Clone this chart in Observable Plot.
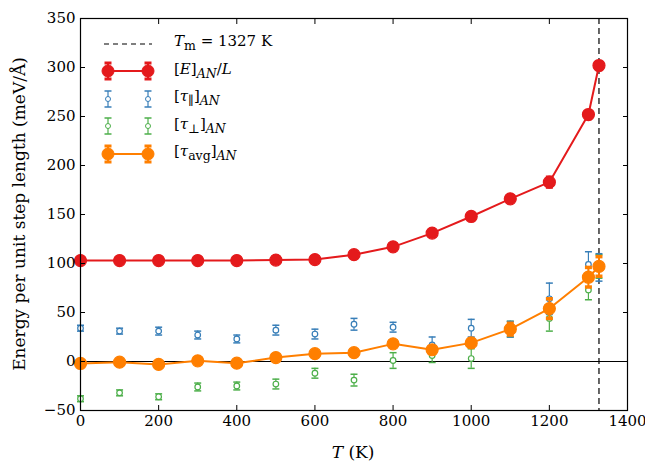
<!DOCTYPE html>
<html><head><meta charset="utf-8">
<script src="https://cdn.jsdelivr.net/npm/d3@7"></script>
<script src="https://cdn.jsdelivr.net/npm/@observablehq/plot@0.6"></script>
<style>
body{margin:0;background:#fff;font-family:"DejaVu Serif",serif}
#wrap{position:relative;width:645px;height:466px}
#legend{position:absolute;left:100px;top:30px;font:15px "DejaVu Serif",serif;line-height:23.5px}
#legend div{display:flex;align-items:center}
#legend svg{margin-right:18px}
i{font-style:italic}
</style></head><body>
<div id="wrap"><div id="chart"></div>
<div id="legend"></div></div>
<script>
const T = [0,100,200,300,400,500,600,700,800,900,1000,1100,1200,1300,1327]
const E = [103,103,103,103,103,103.5,104,109,117,131,148,166,183,252,302]
const Eerr = [2,2,2,2,2,2,2,3,3,3,3,3,5,4,4]
const tauPar = [34,31,31,27,23,32,28,38,35,17,34,33,64,99,96]
const tauParErr = [3,3,4,4,4,5,5,6,5,8,9,8,16,13,14]
const tauPerp = [-38,-32,-36,-26,-25,-23,-12,-19,1,6,3,33,44,73,97]
const tauPerpErr = [3,3,3,4,4,5,5,6,8,7,10,8,13,10,12]
const tauAvg = [-2,-0.7,-3,0.7,-1.7,4,8,9,18,12,19,33,54,86,97]
const tauAvgErr = [2,2,2,2,2,2,2,2,3,3,4,6,10,10,10]
const Tm = 1327
const xTicks = [0,200,400,600,800,1000,1200,1400]
const yTicks = [-50,0,50,100,150,200,250,300,350]

const rows = (ys, es) => T.map((t, i) => ({t, y: ys[i], lo: ys[i] - es[i], hi: ys[i] + es[i]}))
const red = "#e41a1c", blue = "#377eb8", green = "#4daf4a", orange = "#ff7f00"

const capSymbol = {draw(ctx, size) { const w = 3.5; ctx.moveTo(-w, 0); ctx.lineTo(w, 0) }}

function series(ys, es, color, filled, line) {
  const d = rows(ys, es)
  const m = [Plot.ruleX(d, {x: "t", y1: "lo", y2: "hi", stroke: color, strokeWidth: filled ? 2 : 1.2})]
  for (const k of ["lo", "hi"])
    m.push(Plot.dot(d, {x: "t", y: k, symbol: capSymbol, r: 3, stroke: color, strokeWidth: filled ? 3.5 : 1.5}))
  if (line) m.push(Plot.line(d, {x: "t", y: "y", stroke: color, strokeWidth: 2}))
  m.push(Plot.dot(d, {x: "t", y: "y", r: filled ? 6 : 2.8, fill: filled ? color : "white", stroke: color, strokeWidth: 1.2}))
  return m
}

const fmt = d3.format("d")
const chart = Plot.plot({
  width: 645, height: 466,
  marginLeft: 80, marginRight: 18, marginTop: 18, marginBottom: 56,
  style: {fontFamily: "DejaVu Serif, serif", fontSize: "15px", color: "#000"},
  x: {domain: [0, 1400]},
  y: {domain: [-50, 350]},
  marks: [
    Plot.ruleY([0], {stroke: "#000", strokeWidth: 1}),
    Plot.ruleX([Tm], {stroke: "#000", strokeDasharray: "6,4", strokeWidth: 1.2}),
    ...series(tauPerp, tauPerpErr, green, false, false),
    ...series(tauPar, tauParErr, blue, false, false),
    ...series(E, Eerr, red, true, true),
    ...series(tauAvg, tauAvgErr, orange, true, true),
    Plot.frame({stroke: "#000", strokeWidth: 1.2}),
    Plot.axisX(xTicks, {tickSize: -5, tickPadding: 10, tickFormat: fmt, label: null}),
    Plot.axisX(xTicks, {anchor: "top", tickSize: -5, tickFormat: () => "", label: null}),
    Plot.axisY(yTicks, {tickSize: -5, tickPadding: 10, tickFormat: fmt, label: null}),
    Plot.axisY(yTicks, {anchor: "right", tickSize: -5, tickFormat: () => "", label: null}),
  ]
})
d3.select("#chart").append(() => chart)
const svg = d3.select(chart)
svg.append("text").attr("x", 353).attr("y", 458).attr("text-anchor", "middle").attr("font-size", 17)
  .html('<tspan font-style="italic">T</tspan> (K)')
svg.append("text").attr("transform", "translate(25,214) rotate(-90)").attr("text-anchor", "middle").attr("font-size", 17)
  .text("Energy per unit step length (meV/Å)")

const legendItems = [
  {kind: "dash", label: '<i>T</i><sub>m</sub> = 1327 K'},
  {kind: "big", color: red, label: '[<i>E</i>]<sub><i>AN</i></sub>/<i>L</i>'},
  {kind: "small", color: blue, label: '[<i>τ</i><sub>∥</sub>]<sub><i>AN</i></sub>'},
  {kind: "small", color: green, label: '[<i>τ</i><sub>⊥</sub>]<sub><i>AN</i></sub>'},
  {kind: "big", color: orange, label: '[<i>τ</i><sub>avg</sub>]<sub><i>AN</i></sub>'},
]
const sym = (it) => {
  if (it.kind === "dash") return '<svg width="56" height="20"><line x1="4" x2="52" y1="10" y2="10" stroke="#000" stroke-dasharray="5,4" stroke-width="1.2"/></svg>'
  const big = it.kind === "big", r = big ? 6 : 2.5, c = it.color
  const one = x => `<line x1="${x}" x2="${x}" y1="2" y2="18" stroke="${c}" stroke-width="${big ? 2 : 1.2}"/><line x1="${x-3.5}" x2="${x+3.5}" y1="2" y2="2" stroke="${c}" stroke-width="${big ? 3 : 1.5}"/><line x1="${x-3.5}" x2="${x+3.5}" y1="18" y2="18" stroke="${c}" stroke-width="${big ? 3 : 1.5}"/><circle cx="${x}" cy="10" r="${r}" fill="${big ? c : "white"}" stroke="${c}"/>`
  const ln = big ? `<line x1="8" x2="48" y1="10" y2="10" stroke="${c}" stroke-width="2"/>` : ""
  return `<svg width="56" height="20">${ln}${one(8)}${one(48)}</svg>`
}
d3.select("#legend").selectAll("div").data(legendItems).join("div")
  .html(d => sym(d) + `<span>${d.label}</span>`)
</script></body></html>
